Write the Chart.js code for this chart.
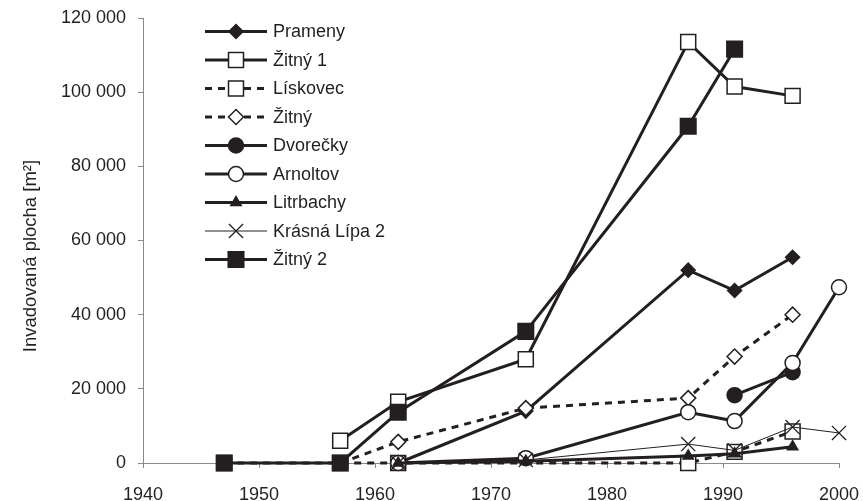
<!DOCTYPE html>
<html>
<head>
<meta charset="utf-8">
<script src="https://cdn.jsdelivr.net/npm/chart.js@4/dist/chart.umd.min.js"></script>
<style>
html,body{margin:0;padding:0;background:#fff;}
#wrap{width:863px;height:501px;}
</style>
</head>
<body>
<div id="wrap"><canvas id="c" width="863" height="501"></canvas></div>
<script>
// ---- data ----
const seriesNames = ['Prameny','Žitný 1','Lískovec','Žitný','Dvorečky','Arnoltov','Litrbachy','Krásná Lípa 2','Žitný 2'];
const pramenyYears = [1962,1973,1987,1991,1996];
const pramenyValues = [0,14000,52000,46500,55500];
const zitny1Years = [1957,1962,1973,1987,1991,1996];
const zitny1Values = [6000,16500,28000,113500,101500,99000];
const liskovecYears = [1947,1957,1962,1987,1991,1996];
const liskovecValues = [0,0,0,0,3000,8500];
const zitnyYears = [1957,1962,1973,1987,1991,1996];
const zitnyValues = [0,5700,14800,17500,28700,40000];
const dvoreckyYears = [1991,1996];
const dvoreckyValues = [18300,24500];
const arnoltovYears = [1962,1973,1987,1991,1996,2000];
const arnoltovValues = [0,1300,13700,11300,27000,47400];
const litrbachyYears = [1962,1973,1987,1991,1996];
const litrbachyValues = [0,500,1900,2500,4400];
const krasnaYears = [1962,1973,1987,1991,1996,2000];
const krasnaValues = [0,800,5100,3400,9700,8100];
const zitny2Years = [1947,1957,1962,1973,1987,1991];
const zitny2Values = [0,0,13700,35500,90800,111600];
const xTicks = [1940,1950,1960,1970,1980,1990,2000];
const yTicks = [0,20000,40000,60000,80000,100000,120000];
const yTitle = 'Invadovaná plocha [m²]';

const INK = '#231f20';
const FONT = '"Liberation Sans", Arial, sans-serif';

const styles = [
  {pointStyle:'rectRot', radius:7, fill:INK, bw:3, dash:[], pbw:1.5},
  {pointStyle:'rect', radius:10.6, fill:'#fff', bw:3, dash:[], pbw:1.5},
  {pointStyle:'rect', radius:10.6, fill:'#fff', bw:3, dash:[7,6], pbw:1.5},
  {pointStyle:'rectRot', radius:7.5, fill:'#fff', bw:3, dash:[7,6], pbw:1.5},
  {pointStyle:'circle', radius:7.5, fill:INK, bw:3, dash:[], pbw:1.5},
  {pointStyle:'circle', radius:7.5, fill:'#fff', bw:3, dash:[], pbw:1.5},
  {pointStyle:'triangle', radius:6, fill:INK, bw:3, dash:[], pbw:1.5},
  {pointStyle:'crossRot', radius:10, fill:INK, bw:1, dash:[], pbw:1.3},
  {pointStyle:'rect', radius:11, fill:INK, bw:3, dash:[], pbw:1.5}
];
const yearsList = [pramenyYears,zitny1Years,liskovecYears,zitnyYears,dvoreckyYears,arnoltovYears,litrbachyYears,krasnaYears,zitny2Years];
const valuesList = [pramenyValues,zitny1Values,liskovecValues,zitnyValues,dvoreckyValues,arnoltovValues,litrbachyValues,krasnaValues,zitny2Values];

const datasets = seriesNames.map((name,i)=>({
  label:name,
  data: yearsList[i].map((x,j)=>({x:x,y:valuesList[i][j]})),
  borderColor:INK,
  borderWidth:styles[i].bw,
  borderDash:styles[i].dash,
  pointStyle:styles[i].pointStyle,
  pointRadius:styles[i].radius,
  pointBackgroundColor:styles[i].fill,
  pointBorderColor:INK,
  pointBorderWidth:styles[i].pbw,
  tension:0,
  fill:false,
  clip:false,
  order: seriesNames.length - i
}));

function fmt(v){return String(v).replace(/\B(?=(\d{3})+(?!\d))/g,' ');}

function drawMarker(ctx, st, x, y){
  const r = st.radius;
  ctx.save();
  ctx.setLineDash([]);
  ctx.lineWidth = st.pbw;
  ctx.strokeStyle = INK;
  ctx.fillStyle = st.fill;
  ctx.beginPath();
  if (st.pointStyle === 'rect'){
    const s = Math.SQRT1_2*r;
    ctx.rect(x-s,y-s,2*s,2*s);
    ctx.fill(); ctx.stroke();
  } else if (st.pointStyle === 'rectRot'){
    ctx.moveTo(x-r,y); ctx.lineTo(x,y-r); ctx.lineTo(x+r,y); ctx.lineTo(x,y+r); ctx.closePath();
    ctx.fill(); ctx.stroke();
  } else if (st.pointStyle === 'circle'){
    ctx.arc(x,y,r,0,Math.PI*2);
    ctx.fill(); ctx.stroke();
  } else if (st.pointStyle === 'triangle'){
    ctx.moveTo(x, y - r);
    ctx.lineTo(x + r*0.866, y + r*0.5);
    ctx.lineTo(x - r*0.866, y + r*0.5);
    ctx.closePath();
    ctx.fill(); ctx.stroke();
  } else if (st.pointStyle === 'crossRot'){
    const s = Math.SQRT1_2*r;
    ctx.moveTo(x-s,y-s); ctx.lineTo(x+s,y+s);
    ctx.moveTo(x+s,y-s); ctx.lineTo(x-s,y+s);
    ctx.stroke();
  }
  ctx.restore();
}

const customLegend = {
  id:'customLegend',
  afterDraw(chart){
    const ctx = chart.ctx;
    const x0 = 205, x1 = 267, xm = 236, xt = 273;
    const top = 31.5, step = 28.5;
    seriesNames.forEach((name,i)=>{
      const st = styles[i];
      const y = top + i*step;
      ctx.save();
      ctx.strokeStyle = INK;
      ctx.lineWidth = st.bw;
      ctx.setLineDash(st.dash);
      ctx.beginPath();
      ctx.moveTo(x0,y); ctx.lineTo(x1,y);
      ctx.stroke();
      ctx.restore();
      drawMarker(ctx, st, xm, y);
      ctx.save();
      ctx.fillStyle = INK;
      ctx.font = '18px ' + FONT;
      ctx.textBaseline = 'middle';
      ctx.textAlign = 'left';
      ctx.fillText(name, xt, y+1);
      ctx.restore();
    });
    // y axis title
    ctx.save();
    ctx.translate(31, 256);
    ctx.rotate(-Math.PI/2);
    ctx.fillStyle = INK;
    ctx.font = '18.5px ' + FONT;
    ctx.textAlign = 'center';
    ctx.textBaseline = 'middle';
    ctx.fillText(yTitle, 0, 0);
    ctx.restore();
  }
};

new Chart(document.getElementById('c'), {
  type:'line',
  data:{datasets:datasets},
  options:{
    responsive:false,
    animation:false,
    devicePixelRatio:1,
    layout:{padding:{top:18,right:24,left:0,bottom:0}},
    plugins:{legend:{display:false},tooltip:{enabled:false},title:{display:false}},
    scales:{
      x:{
        type:'linear',
        min:1940,max:2000,
        afterBuildTicks(s){ s.ticks = xTicks.map(v=>({value:v})); },
        afterFit(s){ s.height = 38; s.paddingLeft = 0; s.paddingRight = 0; },
        grid:{drawOnChartArea:false, drawTicks:true, tickLength:5, color:'#8a8a8a', tickColor:'#8a8a8a'},
        border:{display:true,color:'#8a8a8a',width:1},
        ticks:{color:INK, font:{family:FONT,size:18}, padding:16, maxRotation:0, callback:v=>String(v)}
      },
      y:{
        min:0,max:120000,
        afterBuildTicks(s){ s.ticks = yTicks.map(v=>({value:v})); },
        afterFit(s){ s.width = 143; s.paddingTop = 0; s.paddingBottom = 0; },
        grid:{drawOnChartArea:false, drawTicks:true, tickLength:5, color:'#8a8a8a', tickColor:'#8a8a8a'},
        border:{display:true,color:'#8a8a8a',width:1},
        ticks:{color:INK, font:{family:FONT,size:18}, padding:12, callback:v=>fmt(v)}
      }
    }
  },
  plugins:[customLegend]
});
</script>
</body>
</html>
